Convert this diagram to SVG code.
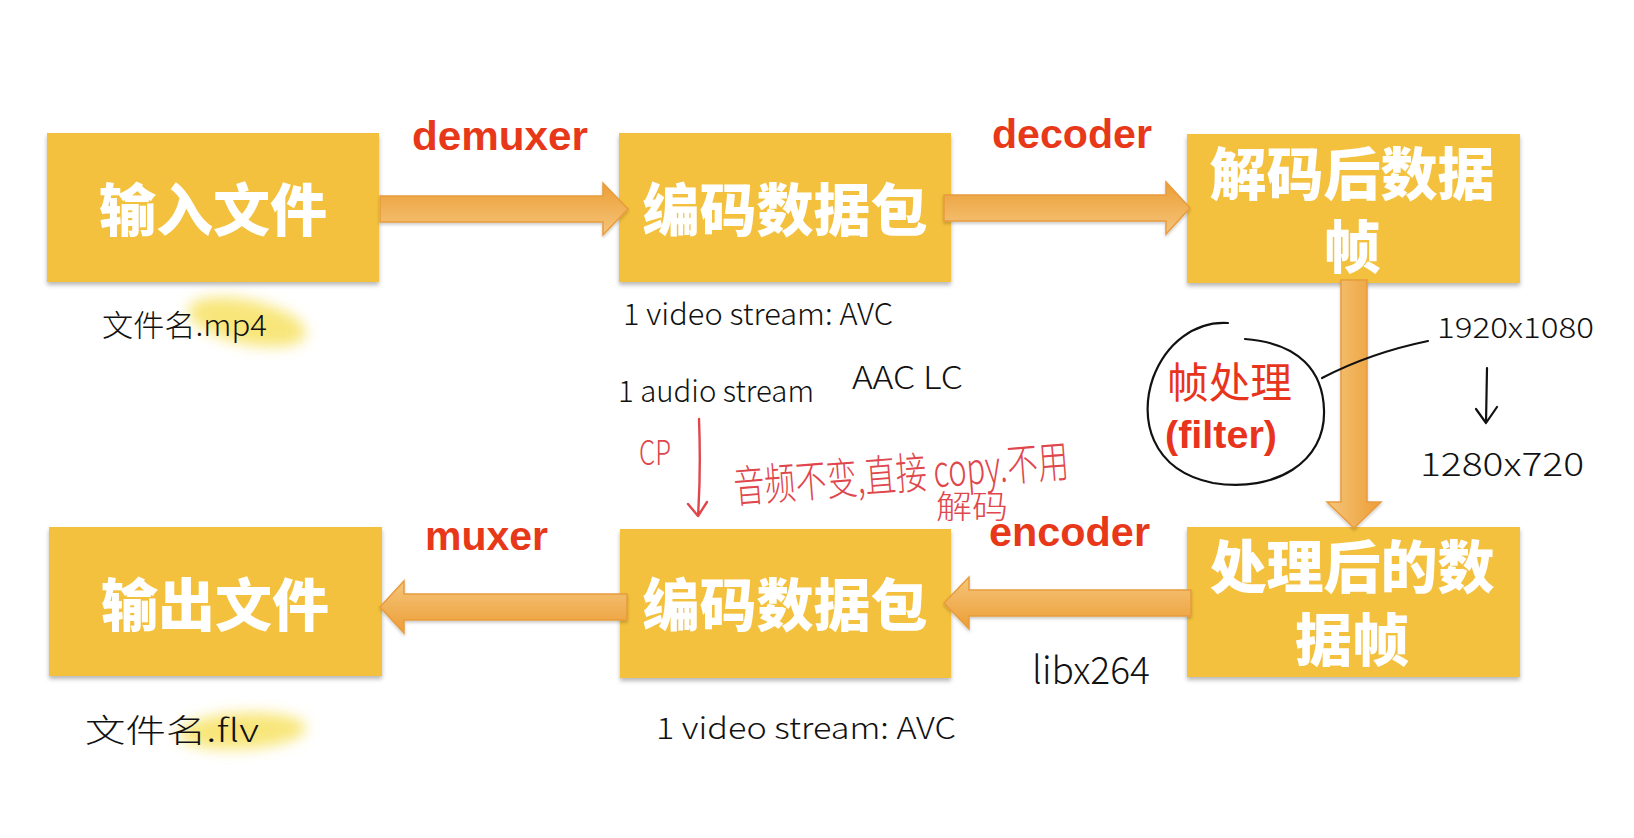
<svg xmlns="http://www.w3.org/2000/svg" width="1634" height="838" viewBox="0 0 1634 838">
<style>
.box{fill:#F3C13C;filter:url(#sh)}
.bt{font-family:"Noto Sans CJK SC","Noto Sans",sans-serif;font-weight:900;font-size:57px;fill:#fff;text-anchor:middle}
.lbl{font-family:"Liberation Sans","Noto Sans",sans-serif;font-weight:700;font-size:40px;fill:#E8381A}
.arr{stroke:#E89C3C;stroke-width:1.5;filter:url(#ash)}
.hw{font-family:"Noto Sans CJK SC","Noto Sans",sans-serif;font-weight:300;fill:#111}
.hr{font-family:"Noto Sans CJK SC","Noto Sans",sans-serif;font-weight:300;fill:#E0474C}
.ink{fill:none;stroke:#111;stroke-width:2.2;stroke-linecap:round;stroke-linejoin:round}
.rink{fill:none;stroke:#E0474C;stroke-width:2.4;stroke-linecap:round;stroke-linejoin:round}
</style>
<defs>
<filter id="sh" x="-5%" y="-5%" width="110%" height="115%"><feDropShadow dx="0" dy="3" stdDeviation="2" flood-color="#000" flood-opacity="0.28"/></filter>
<filter id="ash" x="-5%" y="-20%" width="110%" height="150%"><feDropShadow dx="0" dy="2" stdDeviation="1.5" flood-color="#000" flood-opacity="0.2"/></filter>
<filter id="blur" x="-30%" y="-60%" width="160%" height="220%"><feGaussianBlur stdDeviation="7"/></filter>
<linearGradient id="gR" x1="0" y1="0" x2="0" y2="1"><stop offset="0" stop-color="#EC9E36"/><stop offset="1" stop-color="#F5C57A"/></linearGradient>
<linearGradient id="gL" x1="0" y1="0" x2="0" y2="1"><stop offset="0" stop-color="#F5C57A"/><stop offset="1" stop-color="#EC9E36"/></linearGradient>
<linearGradient id="gD" x1="0" y1="0" x2="1" y2="0"><stop offset="0" stop-color="#F5C57A"/><stop offset="1" stop-color="#EC9E36"/></linearGradient>
</defs>
<rect width="1634" height="838" fill="#fff"/>

<!-- highlights -->
<ellipse cx="247" cy="322" rx="60" ry="22" transform="rotate(12 247 322)" fill="#F7E264" opacity="0.85" filter="url(#blur)"/>
<ellipse cx="242" cy="731" rx="64" ry="18" transform="rotate(-3 242 731)" fill="#F7E264" opacity="0.85" filter="url(#blur)"/>

<g id="node-input"><rect class="box" x="47" y="133" width="332" height="149"/><text class="bt" x="213" y="231">输入文件</text></g>
<g id="node-packet-top"><rect class="box" x="619" y="133" width="332" height="149"/><text class="bt" x="785" y="231">编码数据包</text></g>
<g id="node-decoded"><rect class="box" x="1187" y="134" width="333" height="149"/><text class="bt"><tspan x="1352" y="195">解码后数据</tspan><tspan x="1352" y="268">帧</tspan></text></g>
<g id="node-processed"><rect class="box" x="1187" y="527" width="333" height="150"/><text class="bt"><tspan x="1352" y="588">处理后的数</tspan><tspan x="1352" y="661">据帧</tspan></text></g>
<g id="node-packet-bottom"><rect class="box" x="620" y="529" width="331" height="149"/><text class="bt" x="785" y="626">编码数据包</text></g>
<g id="node-output"><rect class="box" x="49" y="527" width="333" height="149"/><text class="bt" x="215" y="626">输出文件</text></g>

<g id="connectors">
<polygon class="arr" fill="url(#gR)" points="380,196 603,196 603,183 628,209 603,235 603,222 380,222"/>
<polygon class="arr" fill="url(#gR)" points="944,195 1166,195 1166,182 1190,208 1166,234 1166,221 944,221"/>
<polygon class="arr" fill="url(#gD)" points="1341,280 1367,280 1367,502 1381,502 1354,528 1327,502 1341,502"/>
<polygon class="arr" fill="url(#gL)" points="1191,590 969,590 969,577 944,603 969,629 969,616 1191,616"/>
<polygon class="arr" fill="url(#gL)" points="627,594 404,594 404,581 380,607 404,633 404,620 627,620"/>
<text class="lbl" x="412" y="150" textLength="176" lengthAdjust="spacingAndGlyphs">demuxer</text>
<text class="lbl" x="992" y="148" textLength="160" lengthAdjust="spacingAndGlyphs">decoder</text>
<text class="lbl" x="425" y="550" textLength="123" lengthAdjust="spacingAndGlyphs">muxer</text>
<text class="lbl" x="989" y="546" textLength="161" lengthAdjust="spacingAndGlyphs">encoder</text>
</g>

<g id="notes">
<text class="hw" x="102" y="336" font-size="30" textLength="165" lengthAdjust="spacingAndGlyphs">文件名.mp4</text>
<text class="hw" x="85" y="742" font-size="32" textLength="174" lengthAdjust="spacingAndGlyphs">文件名.flv</text>
<text class="hw" x="623" y="325" font-size="30" textLength="270" lengthAdjust="spacingAndGlyphs">1 video stream:  AVC</text>
<text class="hw" x="618" y="402" font-size="30" textLength="196" lengthAdjust="spacingAndGlyphs">1 audio stream</text>
<text class="hw" x="852" y="389" font-size="32" textLength="111" lengthAdjust="spacingAndGlyphs">AAC LC</text>
<text class="hw" x="1032" y="684" font-size="38" textLength="118" lengthAdjust="spacingAndGlyphs">libx264</text>
<text class="hw" x="656" y="739" font-size="30" textLength="300" lengthAdjust="spacingAndGlyphs">1  video stream: AVC</text>
<text class="hw" x="1437" y="338" font-size="28" textLength="157" lengthAdjust="spacingAndGlyphs">1920x1080</text>
<text class="hw" x="1420" y="476" font-size="32" textLength="164" lengthAdjust="spacingAndGlyphs">1280x720</text>
<path class="ink" d="M1487,368 L1486,423 M1476,409 L1486,423 L1497,407"/>
<path class="ink" d="M1228,323 C1195,321 1166,343 1153,378 C1139,418 1150,470 1213,483 C1275,493 1326,462 1324,410 C1323,372 1300,343 1245,339"/>
<path class="ink" d="M1322,378 Q1370,353 1428,341"/>
<text x="1167" y="398" font-family="Noto Sans CJK SC,sans-serif" font-size="42" fill="#E8341C" textLength="125" lengthAdjust="spacingAndGlyphs">帧处理</text>
<text x="1165" y="448" font-family="Liberation Sans,sans-serif" font-weight="700" font-size="38" fill="#E8341C" textLength="112" lengthAdjust="spacingAndGlyphs">(filter)</text>
<text class="hr" x="639" y="465" font-size="34" textLength="32" lengthAdjust="spacingAndGlyphs">CP</text>
<path class="rink" d="M699,419 Q701,470 698,516 M688,504 L698,516 L707,502"/>
<text class="hr" x="735" y="503" font-size="44" textLength="336" lengthAdjust="spacingAndGlyphs" transform="rotate(-4.5 735 503)">音频不变,直接 copy.不用</text>
<text class="hr" x="936" y="518" font-size="32" textLength="72" lengthAdjust="spacingAndGlyphs">解码</text>
</g>
</svg>
